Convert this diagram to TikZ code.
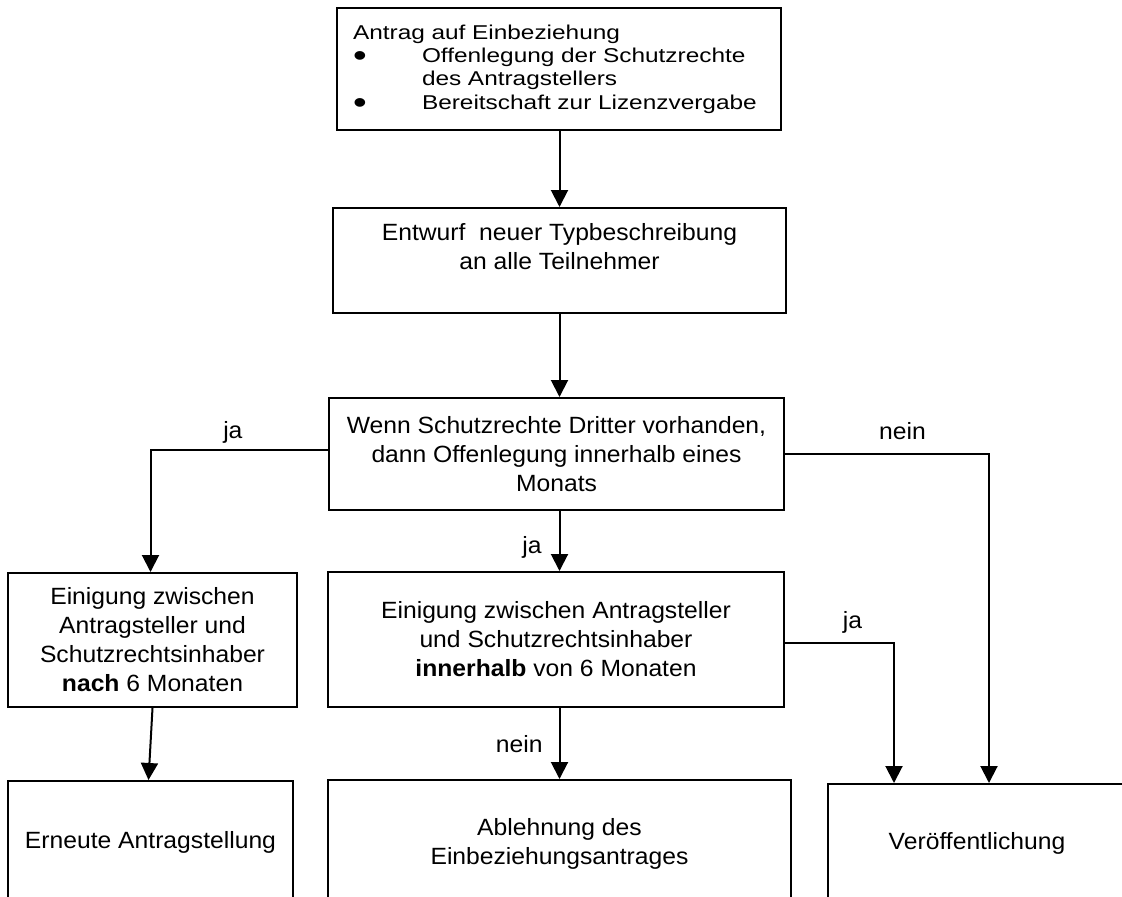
\documentclass[tikz,border=0pt]{standalone}
\usepackage{fontspec}
\setmainfont{Liberation Sans}[FakeStretch=1.05]
\newfontfamily\kopffont{Liberation Sans}[FakeStretch=1.22]
\usetikzlibrary{arrows.meta,positioning}
\newcommand{\punkt}{\raisebox{-4pt}{\scalebox{1.6}{\textbullet}}}

\begin{document}
\begin{tikzpicture}[x=1pt, y=-1pt, line width=2pt, font=\fontsize{23.5}{29}\selectfont,
  box node/.style={draw, rectangle, line width=2pt, inner sep=0pt, align=center},
  open node/.style={box node, anchor=north, text depth=200pt},
  flow/.style={-{Triangle[length=17pt,width=17pt]}},
  answer/.style={inner sep=0pt, text depth=0pt}]
\clip (0,0) rectangle (1122,897);
\fill[white] (0,0) rectangle (1122,897);
\coordinate (mitte) at (559.5,0);
\begin{scope}
\node[box node, align=left, text width=412pt, inner xsep=16pt, minimum height=122pt, font=\kopffont\fontsize{20}{23.3}\selectfont] (antrag) at (559,69) {Antrag auf Einbeziehung\\ \makebox[69pt][l]{\punkt}Offenlegung der Schutzrechte\\ \hspace*{69pt}des Antragstellers\\ \makebox[69pt][l]{\punkt}Bereitschaft zur Lizenzvergabe};
\node[box node, minimum width=453pt, minimum height=105pt] (entwurf) at (559.5,260.5) {Entwurf\ \ neuer Typbeschreibung\\ an alle Teilnehmer\\ \mbox{}};
\node[box node, minimum width=455pt, minimum height=112pt] (pruefung) at (556.5,454) {Wenn Schutzrechte Dritter vorhanden,\\ dann Offenlegung innerhalb eines\\ Monats};
\node[box node, minimum width=289pt, minimum height=134pt] (nachher) at (152.5,640) {Einigung zwischen\\ Antragsteller und\\ Schutzrechtsinhaber\\ \textbf{nach} 6 Monaten};
\node[box node, minimum width=456pt, minimum height=135pt] (innerhalb) at (556,639.5) {Einigung zwischen Antragsteller\\ und Schutzrechtsinhaber\\ \textbf{innerhalb} von 6 Monaten};
\node[open node, minimum width=285pt, text height=67pt] (erneut) at (150.5,780) {Erneute Antragstellung};
\node[open node, minimum width=463pt, text height=84pt] (ablehnung) at (559.5,779) {Ablehnung des\\ Einbeziehungsantrages};
\node[open node, minimum width=298pt, text height=65pt] (veroeff) at (977,783) {Veröffentlichung};
\end{scope}
\begin{scope}
\draw[flow] (mitte |- antrag.south) -- (mitte |- entwurf.north);
\draw[flow] (mitte |- entwurf.south) -- (mitte |- pruefung.north);
\draw[flow] (mitte |- pruefung.south) -- node[answer, left=17pt, pos=0.57] {ja} (mitte |- innerhalb.north);
\draw[flow] ([yshift=4pt]pruefung.west) -| node[answer, above=11pt, pos=0.268] {ja} ([xshift=-2pt]nachher.north);
\draw[flow] (pruefung.east) -| node[answer, above=14pt, pos=0.288] {nein} ([xshift=12pt]veroeff.north);
\draw[flow] ([yshift=-3.5pt]innerhalb.east) -| node[answer, above=14pt, pos=0.31] {ja} ([xshift=-83pt]veroeff.north);
\draw[flow] (nachher.south) -- ([xshift=-2pt]erneut.north);
\draw[flow] (mitte |- innerhalb.south) -- node[answer, left=16pt] {nein} (mitte |- ablehnung.north);
\end{scope}
\end{tikzpicture}
\end{document}
